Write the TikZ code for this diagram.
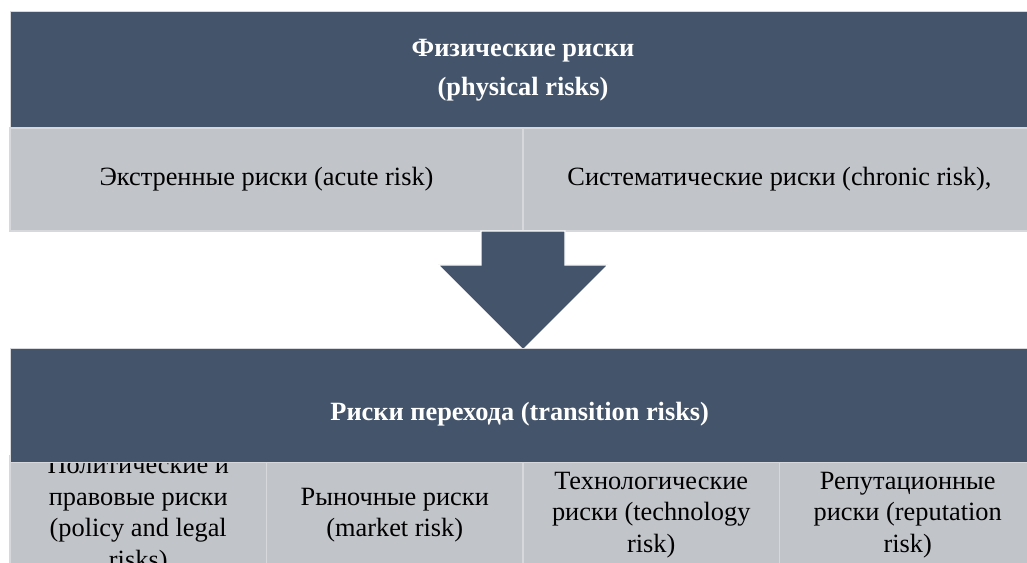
\documentclass[tikz,border=0pt]{standalone}
\usepackage{fontspec}
\setmainfont{Liberation Serif}
\usetikzlibrary{positioning}

\definecolor{slate}{HTML}{44546A}
\definecolor{cellgray}{HTML}{C1C4C9}
\definecolor{rulegray}{HTML}{D6D8DC}

\begin{document}
\begin{tikzpicture}[    % styles of the two tables
    headbox/.style={
        fill=slate, 
        draw=rulegray, 
        line width=0.5pt,
        minimum width=20.52cm, 
        inner sep=0pt, 
        outer sep=0pt,
        text=white, 
        align=center,
        font=\fontsize{15}{22.5}\selectfont\bfseries
    },
    cellbox/.style={
        fill=cellgray, 
        draw=rulegray, 
        line width=1pt,
        minimum height=2.06cm, 
        inner sep=0pt, 
        outer sep=0pt,
        align=center,
        font=\fontsize{15}{18}\selectfont
    },
    downarrow/.style={
        fill=slate, 
        draw=white, 
        line width=0.8pt
    }
]
    \useasboundingbox (0,0) rectangle (20.54,11.26);
    \clip (0,0) rectangle (20.54,11.26);

    % 1. Physical risks
    \node [headbox, minimum height=2.36cm] (Physical) at (10.46,9.86) {
        Физические риски \\
        (physical risks)
    };
    \node [cellbox, minimum width=10.26cm] (Acute) at (5.33,7.67) {Экстренные риски (acute risk)};
    \node [cellbox, minimum width=10.26cm, right=0pt of Acute] (Chronic) {Систематические риски (chronic risk),};

    % 2. The arrow between the tables
    \draw [downarrow] ([xshift=-0.84cm]Acute.south east) -- ++(0,-0.68) -- ++(-0.86,0)
        -- ++(1.70,-1.70) -- ++(1.70,1.70) -- ++(-0.86,0) -- ++(0,0.68) -- cycle;

    % 3. Transition risks
    \node [cellbox, minimum width=5.13cm, minimum height=2.12cm] (Policy) at (2.765,0.96) {
        Политические и \\ правовые риски \\ (policy and legal \\ risks)
    };
    \node [cellbox, minimum width=5.13cm, minimum height=2.12cm, right=0pt of Policy] (Market) {
        Рыночные риски \\ (market risk)
    };
    \node [cellbox, minimum width=5.13cm, minimum height=2.12cm, right=0pt of Market] (Technology) {
        Технологические \\ риски (technology \\ risk)
    };
    \node [cellbox, minimum width=5.13cm, minimum height=2.12cm, right=0pt of Technology] (Reputation) {
        Репутационные \\ риски (reputation \\ risk)
    };
    \node [headbox, minimum height=2.28cm, text height=0.72cm] (Transition) at (10.46,3.16) {
        Риски перехода (transition risks)
    };

\end{tikzpicture}
\end{document}
